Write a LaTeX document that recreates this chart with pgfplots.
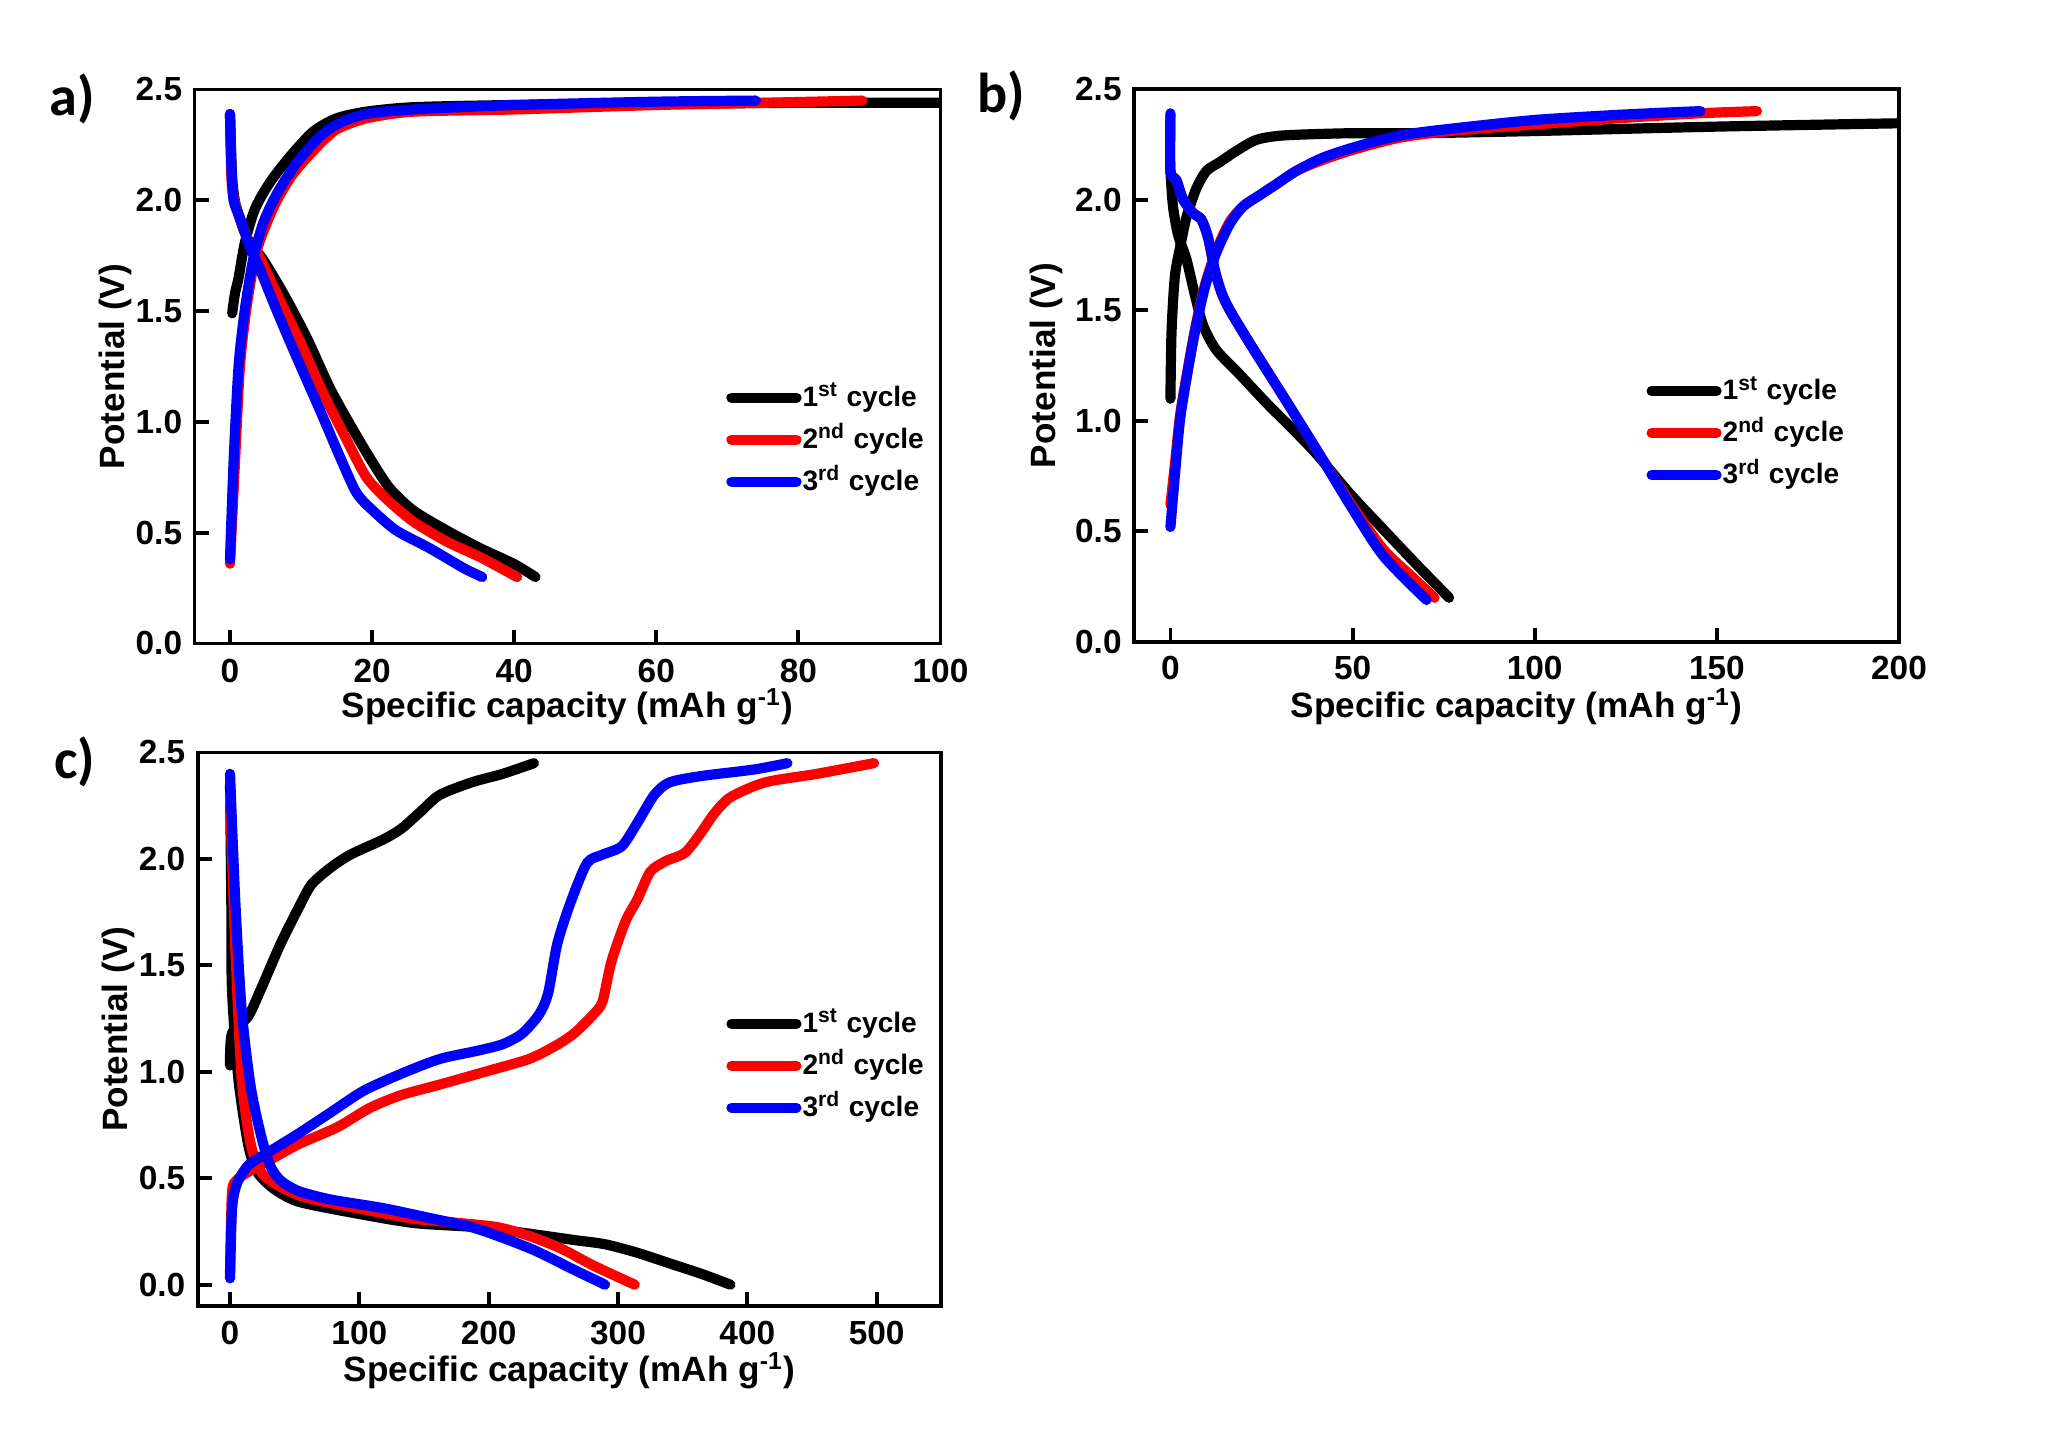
\documentclass[border=0pt]{standalone}
\usepackage{fontspec}
\setmainfont{Liberation Sans}
\newfontfamily\carlito{Carlito}
\usepackage{pgfplots}
\pgfplotsset{compat=1.18}

\definecolor{cblk}{RGB}{0,0,0}
\definecolor{cred}{RGB}{255,0,0}
\definecolor{cblu}{RGB}{0,0,255}

\pgfplotsset{
  panel/.style={
    scale only axis,
    anchor=south west,
    axis line style={line width=1.1pt},
    tick style={line width=1.1pt, black},
    major tick length=1.4mm,
    tick align=inside, tick pos=left,
    ymin=0, ymax=2.5, ytick={0,0.5,...,2.5},
    yticklabel style={/pgf/number format/fixed, /pgf/number format/fixed zerofill, /pgf/number format/precision=1},
    xticklabel style={yshift=-0.3mm},
    /pgf/number format/assume math mode=true,
    ticklabel style={font=\bfseries\fontsize{9.5}{11}\selectfont},
    label style={font=\bfseries\fontsize{10}{12}\selectfont},
    ylabel={Potential (V)},
    xlabel={Specific capacity (mAh g\textsuperscript{-1})},
    every axis plot/.append style={line width=2.9pt, line cap=round, line join=round, smooth, tension=0.45},
    legend cell align=left,
    legend style={draw=none, fill=none, inner sep=0pt, anchor=west,
      font=\bfseries\fontsize{8}{10}\selectfont,
      row sep=1.2mm, column sep=0.1mm,
      nodes={inner sep=0pt, text height=2.4mm, text depth=0.6mm}},
    legend image code/.code={%
      \draw[#1, line width=2.9pt, line cap=round, sharp plot] (0.5mm,0mm) -- (6.0mm,0mm);
      \path (0mm,0mm) -- (6.5mm,0mm);},
  }
}

\begin{document}
\begin{tikzpicture}
\path[use as bounding box] (0,0) rectangle (20.6,14.42);

% ---- a) ----
\begin{axis}[panel, at={(1.945cm,7.985cm)}, width=7.46cm, height=5.54cm,
  xmin=-5, xmax=100, xtick={0,20,...,100},
  xlabel style={at={(axis description cs:0.5,-0.114)}, anchor=center},
  ylabel style={at={(axis description cs:-0.106,0.5)}, anchor=center},
  legend style={at={(axis description cs:0.712,0.368)}}]
\addplot[cblk] coordinates {(0.3,1.49) (0.7,1.58) (1.2,1.65) (2.1,1.81) (3.5,1.96) (5.6,2.08) (8.5,2.20) (11.7,2.31) (15,2.37) (19.2,2.40) (25.8,2.42) (40,2.43) (60,2.435) (80,2.44) (100,2.44)};
\addlegendentry{1\textsuperscript{st} cycle}
\addplot[cblk, forget plot] coordinates {(0,2.38) (0.3,2.1) (0.8,1.98) (2,1.86) (3.3,1.78) (4.5,1.74) (7.5,1.58) (10.8,1.38) (14.1,1.15) (17.4,0.96) (20.2,0.81) (22.5,0.70) (25.8,0.60) (30.5,0.51) (35.2,0.43) (39.9,0.36) (43,0.30)};
\addplot[cred] coordinates {(0,0.36) (0.7,0.82) (1.4,1.25) (2.3,1.51) (3.5,1.74) (4.7,1.86) (6.6,2.0) (8.9,2.12) (12.2,2.24) (15,2.32) (19.2,2.37) (25.8,2.40) (40,2.41) (60,2.43) (75,2.44) (89,2.45)};
\addlegendentry{2\textsuperscript{nd} cycle}
\addplot[cred, forget plot] coordinates {(0,2.39) (0.2,2.1) (0.6,2.0) (1.5,1.91) (2.8,1.80) (4.2,1.74) (7.0,1.55) (9.9,1.36) (13.1,1.13) (16.4,0.92) (19.2,0.75) (22.1,0.65) (25.8,0.55) (30.5,0.46) (35.2,0.39) (40.4,0.30)};
\addplot[cblu] coordinates {(0,0.38) (0.5,0.82) (1.2,1.25) (2.1,1.51) (3.3,1.74) (4.7,1.90) (6.6,2.03) (9.4,2.17) (12.7,2.29) (15.5,2.35) (19.2,2.39) (25.8,2.41) (40,2.43) (60,2.445) (74,2.45)};
\addlegendentry{3\textsuperscript{rd} cycle}
\addplot[cblu, forget plot] coordinates {(0,2.39) (0.2,2.15) (0.5,2.0) (1.4,1.92) (2.8,1.79) (4.2,1.69) (6.6,1.50) (9.4,1.29) (12.7,1.05) (15.5,0.84) (17.8,0.68) (20.1,0.60) (23.4,0.51) (28.1,0.43) (32.9,0.34) (35.5,0.30)};
\end{axis}

% ---- b) ----
\begin{axis}[panel, at={(11.34cm,8.0cm)}, width=7.65cm, height=5.53cm,
  xmin=-10, xmax=200, xtick={0,50,...,200},
  xticklabel style={yshift=0.1mm},
  xlabel style={at={(axis description cs:0.5,-0.117)}, anchor=center},
  ylabel style={at={(axis description cs:-0.114,0.5)}, anchor=center},
  legend style={at={(axis description cs:0.669,0.378)}}]
\addplot[cblk] coordinates {(0,1.10) (0.3,1.40) (1.2,1.65) (2.6,1.78) (4.4,1.92) (7.1,2.05) (9.9,2.13) (13.6,2.17) (18.1,2.22) (23.6,2.27) (31,2.29) (49,2.30) (68,2.30) (100,2.31) (150,2.33) (200,2.345)};
\addlegendentry{1\textsuperscript{st} cycle}
\addplot[cblk, forget plot] coordinates {(0,2.13) (0.7,1.97) (2.1,1.84) (4.4,1.73) (6.7,1.57) (9,1.43) (12.6,1.32) (19,1.21) (26.4,1.08) (33.7,0.96) (40.1,0.85) (49.3,0.67) (58.4,0.51) (67.6,0.35) (76.5,0.20)};
\addplot[cred] coordinates {(0,0.62) (1.2,0.80) (2.6,1.02) (4.4,1.20) (6.7,1.41) (9.4,1.61) (12.6,1.77) (16.3,1.90) (20,1.97) (24.5,2.02) (29.1,2.07) (34.6,2.13) (41.9,2.18) (51.1,2.23) (63,2.28) (76.7,2.31) (100,2.34) (125,2.37) (145,2.39) (161,2.40)};
\addlegendentry{2\textsuperscript{nd} cycle}
\addplot[cred, forget plot] coordinates {(0,2.38) (0,2.13) (1.6,2.09) (3.5,2.0) (6.2,1.94) (8.5,1.91) (10.3,1.83) (12.2,1.68) (14,1.58) (16.3,1.50) (21.8,1.35) (31,1.11) (40.1,0.87) (49.3,0.63) (58.4,0.42) (66,0.30) (72.5,0.20)};
\addplot[cblu] coordinates {(0,0.52) (1.2,0.75) (2.6,1.0) (4.4,1.19) (6.7,1.40) (9.4,1.60) (12.6,1.76) (16.3,1.89) (20,1.97) (24.5,2.02) (29.1,2.07) (34.6,2.13) (41.9,2.19) (51.1,2.24) (63,2.29) (76.7,2.32) (100,2.36) (125,2.385) (145.5,2.40)};
\addlegendentry{3\textsuperscript{rd} cycle}
\addplot[cblu, forget plot] coordinates {(0,2.39) (0,2.13) (1.6,2.09) (3.5,2.0) (6.2,1.94) (8.5,1.91) (10.3,1.83) (12.2,1.68) (14,1.58) (16.3,1.50) (21.8,1.35) (31,1.11) (40.1,0.87) (49.3,0.62) (58.4,0.39) (70.3,0.19)};
\end{axis}

% ---- c) ----
\begin{axis}[panel, at={(1.977cm,1.36cm)}, width=7.436cm, height=5.535cm,
  xmin=-25, xmax=550, xtick={0,100,...,500}, ymin=-0.1,
  xlabel style={at={(axis description cs:0.5,-0.117)}, anchor=center},
  ylabel style={at={(axis description cs:-0.107,0.5)}, anchor=center},
  legend style={at={(axis description cs:0.710,0.434)}}]
\addplot[cblk] coordinates {(0,1.03) (1.5,1.18) (14,1.26) (24,1.39) (39,1.60) (53,1.77) (63,1.88) (78,1.96) (93,2.02) (118,2.09) (132,2.14) (147,2.22) (162,2.30) (187,2.36) (211,2.40) (235,2.45)};
\addlegendentry{1\textsuperscript{st} cycle}
\addplot[cblk, forget plot] coordinates {(0,2.35) (1,1.8) (1.5,1.39) (6.4,0.97) (14,0.66) (21,0.53) (34,0.45) (53,0.39) (93,0.34) (142,0.29) (192,0.27) (231,0.24) (266,0.21) (290,0.19) (315,0.15) (340,0.10) (365,0.05) (387,0.0)};
\addplot[cred] coordinates {(0,0.05) (1.5,0.43) (5,0.49) (14,0.53) (29,0.58) (53,0.66) (83,0.74) (108,0.83) (132,0.89) (162,0.94) (197,1.0) (231,1.06) (251,1.12) (266,1.18) (281,1.27) (288,1.33) (295,1.52) (306,1.71) (315,1.81) (325,1.94) (337,1.99) (352,2.03) (365,2.13) (374,2.21) (387,2.29) (414,2.36) (454,2.40) (498,2.45)};
\addlegendentry{2\textsuperscript{nd} cycle}
\addplot[cred, forget plot] coordinates {(0,2.3) (4,1.60) (9,0.97) (16,0.66) (24,0.53) (36,0.47) (58,0.41) (98,0.36) (142,0.31) (177,0.29) (207,0.27) (231,0.23) (256,0.17) (281,0.09) (313,0.0)};
\addplot[cblu] coordinates {(0,0.03) (1.5,0.35) (5,0.47) (14,0.56) (29,0.62) (53,0.71) (78,0.81) (103,0.91) (132,0.99) (162,1.06) (192,1.10) (211,1.13) (226,1.18) (239,1.27) (246,1.37) (253,1.60) (263,1.79) (276,1.98) (288,2.02) (303,2.06) (315,2.17) (328,2.30) (340,2.36) (365,2.39) (405,2.42) (431,2.45)};
\addlegendentry{3\textsuperscript{rd} cycle}
\addplot[cblu, forget plot] coordinates {(0,2.40) (4,1.81) (9,1.29) (16,0.93) (24,0.70) (31,0.56) (39,0.49) (53,0.44) (78,0.40) (118,0.36) (157,0.31) (187,0.27) (211,0.22) (236,0.16) (266,0.07) (290,0.0)};
\end{axis}

\node[font=\carlito\bfseries\fontsize{16}{18}\selectfont] at (0.72,13.435) {a)};
\node[font=\carlito\bfseries\fontsize{16}{18}\selectfont] at (10.01,13.46) {b)};
\node[font=\carlito\bfseries\fontsize{16}{18}\selectfont] at (0.75,6.80) {c)};
\end{tikzpicture}
\end{document}
